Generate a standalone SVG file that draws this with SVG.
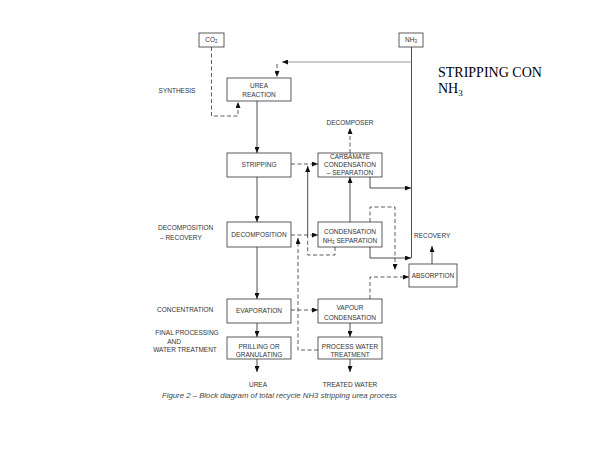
<svg xmlns="http://www.w3.org/2000/svg" width="600" height="450" viewBox="0 0 600 450">
<style>
.box{fill:#fff;stroke:#333;stroke-width:0.8}
.t{font-family:"Liberation Sans",Arial,sans-serif;font-size:6.5px;fill:#333;text-anchor:middle}
.l{font-family:"Liberation Sans",Arial,sans-serif;font-size:6.5px;fill:#333}
.c{fill:none;stroke:#222;stroke-width:0.8}
.d{fill:none;stroke:#333;stroke-width:0.8;stroke-dasharray:4,2.5}
.g{fill:none;stroke:#999;stroke-width:1}
</style>
<defs>
<marker id="a" markerWidth="6" markerHeight="5" refX="6" refY="2.5" orient="auto" markerUnits="userSpaceOnUse">
<path d="M0,0 L6,2.5 L0,5 Z" fill="#111"/>
</marker>
</defs>
<rect width="600" height="450" fill="#fff"/>
<g id="connectors">
<path class="c" d="M411.5,47 V258"/>
<path class="g" d="M411.5,62 H282" marker-end="url(#a)"/>
<path class="d" d="M277,64 V77" marker-end="url(#a)"/>
<path class="d" d="M211.5,47 V116 H238 V102" marker-end="url(#a)"/>
<path class="c" d="M257,101 V153" marker-end="url(#a)"/>
<path class="d" d="M291,164 H318" marker-end="url(#a)"/>
<path class="c" d="M307.7,237 V166" marker-end="url(#a)"/>
<path class="d" d="M350,153 V128" marker-end="url(#a)"/>
<path class="c" d="M350,222 V177" marker-end="url(#a)"/>
<path class="c" d="M370,177 V188 H411" marker-end="url(#a)"/>
<path class="c" d="M257,177 V222" marker-end="url(#a)"/>
<path class="d" d="M291,235 H318" marker-end="url(#a)"/>
<path class="d" d="M335,247 V255 H307.7 V237"/>
<path class="d" d="M370,222 V207 H395 V270" marker-end="url(#a)"/>
<path class="c" d="M370,247 V258 H411" marker-end="url(#a)"/>
<path class="c" d="M432,264 V246" marker-end="url(#a)"/>
<path class="c" d="M257,247 V299" marker-end="url(#a)"/>
<path class="d" d="M291,310 H318" marker-end="url(#a)"/>
<path class="d" d="M370,299 V277 H409" marker-end="url(#a)"/>
<path class="c" d="M257,323 V337" marker-end="url(#a)"/>
<path class="c" d="M350,323 V337" marker-end="url(#a)"/>
<path class="d" d="M318,350 H298 V238" marker-end="url(#a)"/>
<path class="c" d="M257,359 V372" marker-end="url(#a)"/>
<path class="c" d="M350,359 V372" marker-end="url(#a)"/>
</g>
<g id="co2"><rect class="box" x="199" y="33" width="25" height="14"/><text class="t" x="211.5" y="42.3">CO<tspan font-size="4.5" dy="1">2</tspan></text></g>
<g id="nh3"><rect class="box" x="399" y="33" width="24" height="14"/><text class="t" x="411" y="42.3">NH<tspan font-size="4.5" dy="1">3</tspan></text></g>
<g id="urea-reaction"><rect class="box" x="227" y="78" width="64" height="23"/><text class="t" x="259" y="87.5">UREA</text><text class="t" x="259" y="96.5">REACTION</text></g>
<g id="stripping"><rect class="box" x="227" y="153" width="64" height="24"/><text class="t" x="259" y="167.3">STRIPPING</text></g>
<g id="carbamate"><rect class="box" x="318" y="153" width="64" height="24"/><text class="t" x="350" y="159">CARBAMATE</text><text class="t" x="350" y="167.3">CONDENSATION</text><text class="t" x="350" y="175">– SEPARATION</text></g>
<g id="decomposition"><rect class="box" x="227" y="222" width="64" height="25"/><text class="t" x="259" y="237.3">DECOMPOSITION</text></g>
<g id="condensation"><rect class="box" x="318" y="222" width="64" height="25"/><text class="t" x="350" y="234">CONDENSATION</text><text class="t" x="350" y="243.3">NH<tspan font-size="4.5" dy="1">3</tspan><tspan dy="-1"> SEPARATION</tspan></text></g>
<g id="absorption"><rect class="box" x="409" y="264" width="48" height="23"/><text class="t" x="433" y="277.5">ABSORPTION</text></g>
<g id="evaporation"><rect class="box" x="227" y="299" width="64" height="24"/><text class="t" x="259" y="313.3">EVAPORATION</text></g>
<g id="vapour"><rect class="box" x="318" y="299" width="64" height="24"/><text class="t" x="350" y="310">VAPOUR</text><text class="t" x="350" y="319.6">CONDENSATION</text></g>
<g id="prilling"><rect class="box" x="227" y="337" width="64" height="22"/><text class="t" x="259" y="349">PRILLING OR</text><text class="t" x="259" y="357.3">GRANULATING</text></g>
<g id="process-water"><rect class="box" x="318" y="337" width="64" height="22"/><text class="t" x="350" y="349">PROCESS WATER</text><text class="t" x="350" y="357.3">TREATMENT</text></g>
<g id="labels">
<text class="t" x="177" y="93.3">SYNTHESIS</text>
<text class="l" x="158" y="230.3">DECOMPOSITION</text>
<text class="l" x="160" y="240.3">– RECOVERY</text>
<text class="l" x="157" y="312.3">CONCENTRATION</text>
<text class="t" x="187" y="335.3">FINAL PROCESSING</text>
<text class="t" x="174" y="343.8">AND</text>
<text class="t" x="185" y="352">WATER TREATMENT</text>
<text class="t" x="350" y="125.3">DECOMPOSER</text>
<text class="l" x="414" y="238.3">RECOVERY</text>
<text class="t" x="258" y="387.3">UREA</text>
<text class="t" x="350" y="387.3">TREATED WATER</text>
<text x="162" y="397.5" font-family="Liberation Sans, Arial, sans-serif" font-size="7" font-style="italic" fill="#444" textLength="235" lengthAdjust="spacingAndGlyphs">Figure 2 – Block diagram of total recycle NH3 stripping urea process</text>
<text x="438" y="77" font-family="Liberation Serif, Times New Roman, serif" font-size="14" fill="#000">STRIPPING CON</text>
<text x="438" y="93" font-family="Liberation Serif, Times New Roman, serif" font-size="14" fill="#000">NH<tspan font-size="9" dy="3">3</tspan></text>
</g>
</svg>
